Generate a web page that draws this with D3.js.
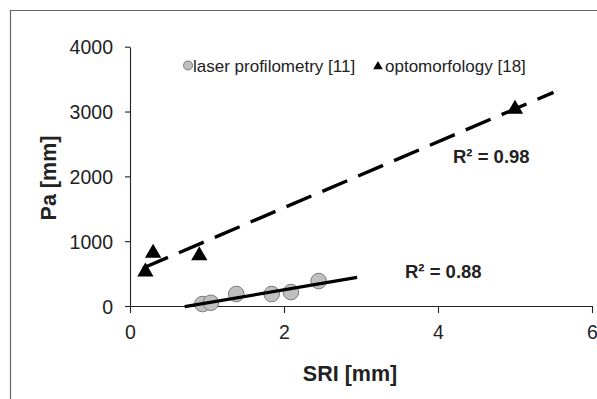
<!DOCTYPE html>
<html><head><meta charset="utf-8">
<script src="https://cdn.jsdelivr.net/npm/d3@7"></script>
<style>body{margin:0;background:#fff}svg{display:block}text{font-family:"Liberation Sans",Arial,sans-serif}</style>
</head><body><svg id="c" width="597" height="399"></svg>
<script>
const laserSRI = [0.94, 1.05, 1.38, 1.84, 2.09, 2.45];
const laserPa  = [30, 50, 185, 185, 215, 385];
const optoSRI  = [0.3, 0.2, 0.9, 5.0];
const optoPa   = [840, 550, 800, 3060];
const laserTrendRange = [0.71, 2.95];
const optoTrendRange  = [0.17, 5.5];
const xTicks = [0, 2, 4, 6];
const yTicks = [0, 1000, 2000, 3000, 4000];
const seriesNames = ["laser profilometry [11]", "optomorfology [18]"];
const r2Labels = ["R² = 0.88", "R² = 0.98"];

const svg = d3.select("#c");
const x = d3.scaleLinear().domain([0, 6]).range([130, 592]);
const y = d3.scaleLinear().domain([0, 4000]).range([306, 46.7]);

// frame
svg.append("path").attr("d", "M10.5,399 V10.5 H597").attr("fill","none").attr("stroke","#666").attr("stroke-width",1.2);

const xa = svg.append("g").attr("transform","translate(0,306)")
  .call(d3.axisBottom(x).tickValues(xTicks).tickFormat(d3.format("d")).tickSizeInner(7).tickSizeOuter(0).tickPadding(12));
const ya = svg.append("g").attr("transform","translate(130,0)")
  .call(d3.axisLeft(y).tickValues(yTicks).tickFormat(d3.format("d")).tickSizeInner(5).tickSizeOuter(0).tickPadding(12));
[xa, ya].forEach(a => {
  a.selectAll("path,line").attr("stroke","#222").attr("stroke-width",1.1);
  a.selectAll("text").attr("font-size",19.5).attr("fill","#222").attr("font-family","Liberation Sans, Arial, sans-serif");
});
ya.selectAll("text").attr("dy","0.36em");

svg.append("text").attr("x", 350).attr("y", 381).attr("text-anchor","middle")
  .attr("font-size",21.5).attr("font-weight","bold").attr("fill","#222").text("SRI [mm]");
svg.append("text").attr("transform","translate(56,178) rotate(-90)").attr("text-anchor","middle")
  .attr("font-size",21.5).attr("font-weight","bold").attr("fill","#222").text("Pa [mm]");

const tri = d3.symbol().type(d3.symbolTriangle).size(115);

// markers
svg.append("g").selectAll("circle").data(laserSRI).join("circle")
  .attr("cx", d => x(d)).attr("cy", (d,i) => y(laserPa[i])).attr("r", 7.8)
  .attr("fill","#c0c0c0").attr("stroke","#7a7a7a").attr("stroke-width",1);
svg.append("g").selectAll("path").data(optoSRI).join("path")
  .attr("d", tri).attr("transform", (d,i) => `translate(${x(d)},${y(optoPa[i])+1.5})`).attr("fill","#000");

// regression trendlines
function fit(xs, ys){
  const mx = d3.mean(xs), my = d3.mean(ys);
  const sxy = d3.sum(xs, (v,i) => (v-mx)*(ys[i]-my));
  const sxx = d3.sum(xs, v => (v-mx)*(v-mx));
  const b = sxy/sxx; return v => my + b*(v-mx);
}
const fL = fit(laserSRI, laserPa), fO = fit(optoSRI, optoPa);
const line = d3.line().x(d => x(d[0])).y(d => y(d[1]));
svg.append("path").attr("d", line(laserTrendRange.map(v => [v, fL(v)])))
  .attr("stroke","#000").attr("stroke-width",3.2).attr("fill","none");
svg.append("path").attr("d", line(optoTrendRange.map(v => [v, fO(v)])))
  .attr("stroke","#000").attr("stroke-width",3.4).attr("fill","none").attr("stroke-dasharray","27,12");

// R² labels
svg.append("text").attr("x",405).attr("y",278).attr("font-size",18.5).attr("font-weight","bold").attr("fill","#222").text(r2Labels[0]);
svg.append("text").attr("x",453).attr("y",163).attr("font-size",18.5).attr("font-weight","bold").attr("fill","#222").text(r2Labels[1]);

// legend
const lg = svg.append("g");
lg.append("circle").attr("cx",188).attr("cy",65.5).attr("r",4.5).attr("fill","#c0c0c0").attr("stroke","#7a7a7a");
lg.append("text").attr("x",193).attr("y",71.5).attr("font-size",17).attr("fill","#222").text(seriesNames[0]);
lg.append("path").attr("d", d3.symbol().type(d3.symbolTriangle).size(40)).attr("transform","translate(378,66.5)").attr("fill","#000");
lg.append("text").attr("x",385).attr("y",71.5).attr("font-size",17).attr("fill","#222").text(seriesNames[1]);
</script></body></html>
